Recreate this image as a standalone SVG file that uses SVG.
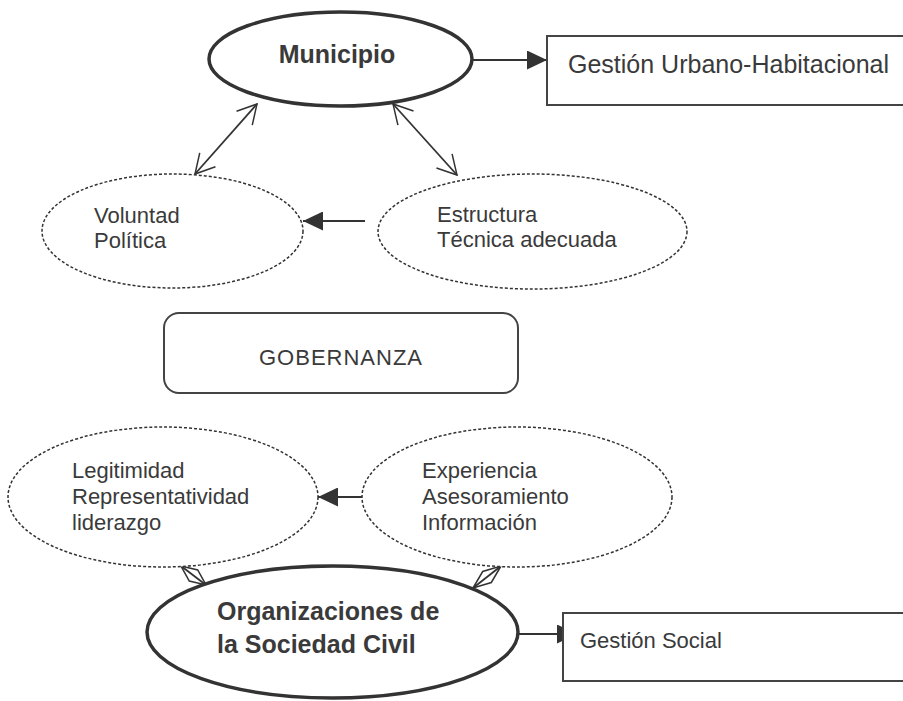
<svg xmlns="http://www.w3.org/2000/svg" width="903" height="701" viewBox="0 0 903 701">
<defs>
<style>
.t{font-family:"Liberation Sans",Arial,sans-serif;fill:#3a3a3a;font-size:22px}
.b{font-weight:bold;font-size:25px}
.big{font-size:25px}
.thick{fill:#fff;stroke:#333;stroke-width:3.5}
.dot{fill:#fff;stroke:#333;stroke-width:1.5;stroke-dasharray:3 2}
.box{fill:#fff;stroke:#444;stroke-width:2}
.ln{fill:none;stroke:#333;stroke-width:1.8}
.dm{fill:#fff;stroke:#333;stroke-width:1.5;stroke-linejoin:miter}
</style>
<marker id="fa" markerUnits="userSpaceOnUse" viewBox="0 0 20 19" refX="20" refY="9.5" markerWidth="20" markerHeight="19" orient="auto">
<path d="M0,0 L20,9.5 L0,19 z" fill="#333"/>
</marker>
<marker id="va" markerUnits="userSpaceOnUse" viewBox="0 0 22 24" refX="21" refY="12" markerWidth="22" markerHeight="24" orient="auto-start-reverse">
<path d="M2,1.5 L21,12 L2,22.5" fill="none" stroke="#333" stroke-width="1.5"/>
</marker>
</defs>
<rect width="903" height="701" fill="#fff"/>

<g id="connectors">
<line class="ln" x1="472" y1="60" x2="547" y2="60" marker-end="url(#fa)"/>
<line class="ln" x1="257" y1="104" x2="195" y2="174" marker-start="url(#va)" marker-end="url(#va)"/>
<line class="ln" x1="393" y1="104" x2="457" y2="175" marker-start="url(#va)" marker-end="url(#va)"/>
<line class="ln" x1="365" y1="221" x2="303" y2="221" marker-end="url(#fa)"/>
<line class="ln" x1="362" y1="497" x2="318" y2="497" marker-end="url(#fa)"/>
<line class="ln" x1="518" y1="634" x2="577" y2="634" marker-end="url(#fa)"/>
<polygon class="dm" points="181,566 197.7,569.9 206,585 189.3,581.1"/>
<line class="ln" x1="181" y1="566" x2="206" y2="585" stroke-width="1.5"/>
<polygon class="dm" points="501,566 491.3,582.5 473,588 482.7,571.5"/>
<line class="ln" x1="501" y1="566" x2="473" y2="588" stroke-width="1.5"/>
</g>

<g id="municipio">
<ellipse class="thick" cx="340.5" cy="59" rx="131.5" ry="47"/>
<text class="t b" x="337" y="63" text-anchor="middle">Municipio</text>
</g>

<g id="gestion-urbano">
<rect class="box" x="547" y="36" width="370" height="69"/>
<text class="t big" x="568" y="73">Gestión Urbano-Habitacional</text>
</g>

<g id="voluntad">
<ellipse class="dot" cx="172.5" cy="231" rx="130.5" ry="57"/>
<text class="t" x="94" y="223">Voluntad</text>
<text class="t" x="94" y="248">Política</text>
</g>

<g id="estructura">
<ellipse class="dot" cx="532.5" cy="231.5" rx="154.5" ry="57.5"/>
<text class="t" x="437" y="222">Estructura</text>
<text class="t" x="437" y="247">Técnica adecuada</text>
</g>

<g id="gobernanza">
<rect class="box" x="164" y="313" width="354" height="80" rx="15" ry="15"/>
<text class="t" x="341" y="365" text-anchor="middle" font-size="24" letter-spacing="1">GOBERNANZA</text>
</g>

<g id="legitimidad">
<ellipse class="dot" cx="163" cy="497" rx="155" ry="70"/>
<text class="t" x="72" y="478">Legitimidad</text>
<text class="t" x="72" y="504">Representatividad</text>
<text class="t" x="72" y="530">liderazgo</text>
</g>

<g id="experiencia">
<ellipse class="dot" cx="517" cy="497" rx="155" ry="70"/>
<text class="t" x="422" y="478">Experiencia</text>
<text class="t" x="422" y="504">Asesoramiento</text>
<text class="t" x="422" y="530">Información</text>
</g>

<g id="osc">
<ellipse class="thick" cx="332.5" cy="632" rx="185.5" ry="66"/>
<text class="t b" x="217" y="620">Organizaciones de</text>
<text class="t b" x="217" y="653">la Sociedad Civil</text>
</g>

<g id="gestion-social">
<rect class="box" x="563" y="613" width="360" height="68"/>
<text class="t" x="580" y="648">Gestión Social</text>
</g>
</svg>
